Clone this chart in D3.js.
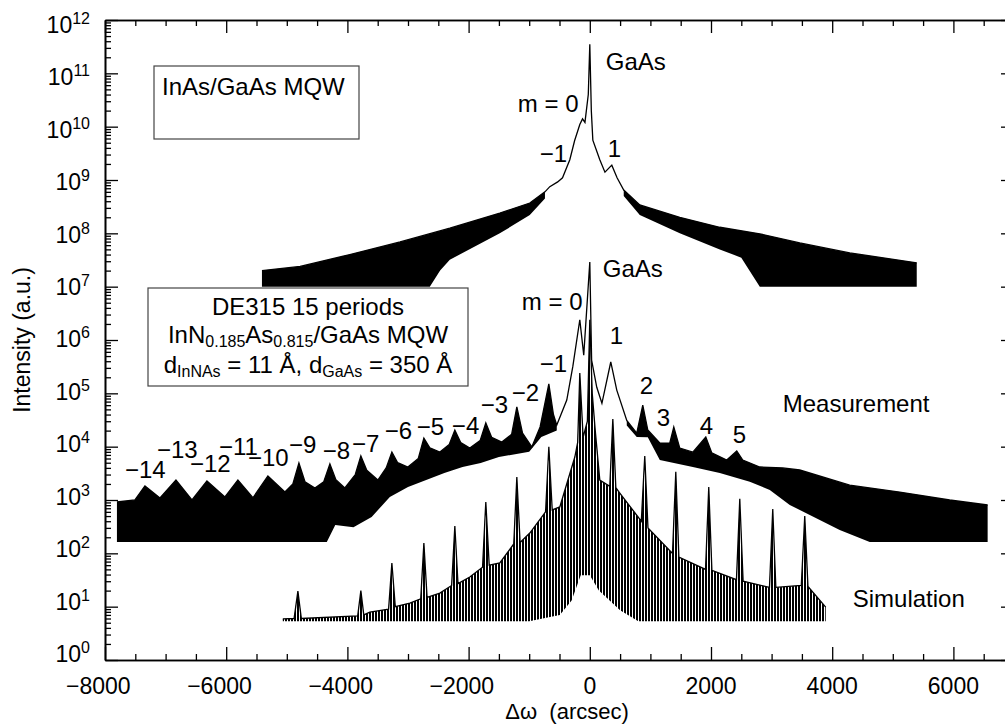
<!DOCTYPE html>
<html>
<head>
<meta charset="utf-8">
<script src="https://cdn.jsdelivr.net/npm/d3@7"></script>
<style>
  body { margin: 0; background: #fff; }
  text { font-family: "Liberation Sans", Arial, Helvetica, sans-serif; fill: #000; }
</style>
</head>
<body>
<script>
// curves: [offset (arcsec), intensity (a.u.)]
// hi = upper edge of the trace, lo = lower edge of the noisy parts

// InAs/GaAs MQW (top trace)
var mqwHi = [[-5410, 2.0e7], [-4780, 2.4e7], [-3960, 4.0e7], [-3130, 6.9e7], [-2310, 1.25e8],
  [-1485, 2.4e8], [-990, 3.7e8], [-740, 6.0e8], [-660, 7.5e8], [-530, 9.2e8], [-450, 1.1e9],
  [-330, 2.4e9], [-250, 5.5e9], [-165, 1.1e10], [-120, 1.4e10], [-80, 1.2e10], [-25, 4e10],
  [0, 3.5e11], [25, 2e10], [50, 5.6e9], [165, 2.4e9], [250, 1.4e9], [363, 1.9e9], [450, 1.1e9],
  [560, 6.5e8], [825, 3.4e8], [1485, 2.0e8], [2145, 1.3e8], [2805, 9.8e7], [3465, 6.6e7],
  [4290, 4.3e7], [5395, 2.8e7]];
var mqwLoLeft = [[-5410, 1e7], [-2640, 1e7], [-2470, 2e7], [-2310, 3.2e7], [-1485, 1.0e8],
  [-990, 2.2e8], [-740, 4.5e8]];
var mqwLoRight = [[560, 5e8], [825, 2.2e8], [1485, 1.0e8], [2145, 5e7], [2500, 3.5e7],
  [2805, 1e7], [5395, 1e7]];

// DE315 measurement
var measHi = [[-7803, 918], [-7506, 1000], [-7341, 1830], [-7093, 1090], [-6829, 2370],
  [-6565, 1000], [-6318, 2270], [-6021, 1140], [-5807, 2370], [-5559, 1100], [-5312, 2820],
  [-5031, 1410], [-4900, 2000], [-4800, 4940], [-4700, 2200], [-4536, 1680], [-4390, 2200],
  [-4289, 4730], [-4190, 2400], [-4042, 1680], [-3870, 3000], [-3778, 6680], [-3680, 3600],
  [-3497, 2370], [-3360, 4000], [-3266, 7940], [-3170, 5000], [-3002, 4160], [-2830, 6000],
  [-2738, 14500], [-2640, 9500], [-2474, 7940], [-2320, 11000], [-2227, 20500], [-2130, 12000],
  [-1980, 9440], [-1810, 13000], [-1716, 27800], [-1620, 15000], [-1452, 12200], [-1290, 17000],
  [-1204, 55500], [-1110, 18000], [-957, 9900], [-820, 23400], [-676, 1.5e5], [-600, 40000],
  [-545, 25400], [-380, 75000], [-280, 3.2e5], [-165, 2.4e6], [-100, 5.2e5], [0, 2.9e7],
  [30, 4.2e5], [115, 1.3e5], [200, 65000], [346, 3.87e5], [445, 1.15e5], [610, 31000],
  [775, 18000], [874, 60400], [957, 20500], [1155, 11700], [1320, 11700], [1386, 23400],
  [1485, 9400], [1700, 7900], [1914, 15200], [2012, 7700], [2260, 5600], [2425, 8300],
  [2524, 5600], [2805, 4160], [3184, 4000], [3464, 3650], [4289, 1900], [5114, 1410],
  [5939, 1000], [6565, 806]];
var measLoLeft = [[-7803, 163], [-4340, 163], [-4200, 340], [-3900, 310], [-3600, 480],
  [-3300, 1140], [-3000, 1750], [-2700, 2360], [-2400, 3200], [-2100, 4160], [-1800, 4940],
  [-1500, 6400], [-1000, 8000], [-800, 15200], [-545, 20000]];
var measLoRight = [[610, 25000], [775, 15200], [957, 15000], [1155, 5600], [1700, 4160],
  [2145, 3200], [2640, 2200], [2970, 1540], [3300, 806], [3630, 525], [4124, 275],
  [4619, 163], [6565, 163]];

// simulation
var simHi = [[-5066, 5.9], [-4880, 6], [-4817, 19.6], [-4760, 6], [-3830, 6.7], [-3778, 20],
  [-3730, 7], [-3630, 7.9], [-3320, 9], [-3266, 66], [-3210, 10], [-2969, 11.7], [-2790, 14],
  [-2738, 156], [-2685, 15], [-2474, 18], [-2280, 25], [-2227, 325], [-2175, 27], [-1980, 36],
  [-1770, 55], [-1716, 920], [-1660, 60], [-1485, 66], [-1255, 150], [-1204, 2700],
  [-1150, 160], [-990, 240], [-730, 600], [-676, 1.0e4], [-620, 650], [-495, 740],
  [-247, 6400], [-200, 1.2e4], [-165, 2.4e5], [-110, 1.5e4], [-40, 3e4], [0, 2.4e6],
  [40, 1.0e5], [90, 2e4], [165, 2370], [330, 1800], [380, 3.3e4], [430, 1700], [495, 1350],
  [850, 400], [907, 6700], [960, 300], [1365, 100], [1419, 3400], [1470, 85], [1910, 50],
  [1963, 1750], [2015, 48], [2420, 32], [2475, 1050], [2530, 30], [2965, 23], [3019, 680],
  [3070, 23], [3490, 25], [3547, 500], [3600, 24], [3893, 9.8]];
var simLo = [[-5066, 5.3], [-1000, 5.3], [-495, 7], [-300, 13], [-150, 39], [0, 39],
  [150, 20], [500, 8.6], [800, 5.3], [3893, 5.3]];

// axis ticks
var xTicks = [-8000, -6000, -4000, -2000, 0, 2000, 4000, 6000];
var yExponents = [0, 1, 2, 3, 4, 5, 6, 7, 8, 9, 10, 11, 12];

// annotations: [text, offset, intensity] (left end of the text, baseline)
var labels = [
  ["GaAs", 264, 1.15e11], ["m = 0", -1188, 1.89e10], ["\u22121", -825, 2.18e9], ["1", 297, 2.7e9],
  ["GaAs", 214, 1.5e7], ["m = 0", -1122, 3.65e6], ["1", 330, 8.4e5], ["\u22121", -825, 2.5e5],
  ["\u22122", -1287, 7.2e4], ["\u22123", -1798, 4.3e4], ["\u22124", -2276, 1.7e4],
  ["\u22125", -2854, 1.66e4], ["\u22126", -3382, 1.39e4], ["\u22127", -3926, 7.9e3],
  ["\u22128", -4405, 5.9e3], ["\u22129", -4965, 7.6e3], ["\u221210", -5642, 4.3e3],
  ["\u221211", -6120, 6.9e3], ["\u221212", -6599, 3.35e3], ["\u221213", -7143, 6.1e3],
  ["\u221214", -7671, 2.6e3], ["2", 825, 9.7e4], ["3", 1105, 2.45e4], ["4", 1815, 1.7e4],
  ["5", 2359, 1.17e4], ["Measurement", 3184, 4.5e4], ["Simulation", 4339, 9.9]
];

var w = 1005;
var h = 724;

var svg = d3.select("body").append("svg")
  .attr("width", w)
  .attr("height", h);

// vertical hatching used for the spiky simulation trace
var pattern = svg.append("defs").append("pattern")
  .attr("id", "spikes")
  .attr("patternUnits", "userSpaceOnUse")
  .attr("width", 3).attr("height", 10);
pattern.append("rect").attr("width", 2).attr("height", 10).attr("fill", "#000");

var xScale = d3.scaleLinear().domain([-8000, 7000]).range([105, 1014]);
var yScale = d3.scaleLog().domain([1, 1e12]).range([660, 20]);

var line = d3.line()
  .x(function(d) { return xScale(d[0]); })
  .y(function(d) { return yScale(d[1]); });

// closed shape between the upper edge and a lower edge
function band(hi, lo) {
  var a = lo[0][0], b = lo[lo.length - 1][0];
  var top = hi.filter(function(d) { return d[0] >= a && d[0] <= b; });
  return line(top.concat(lo.slice().reverse())) + "Z";
}

var plot = svg.append("g");

[[mqwHi, mqwLoLeft], [mqwHi, mqwLoRight], [measHi, measLoLeft], [measHi, measLoRight]]
  .forEach(function(p) {
    plot.append("path").attr("d", band(p[0], p[1])).attr("fill", "#000");
  });
plot.append("path").attr("d", band(simHi, simLo)).attr("fill", "url(#spikes)");

[mqwHi, measHi, simHi].forEach(function(s) {
  plot.append("path").attr("d", line(s))
    .attr("fill", "none").attr("stroke", "#000").attr("stroke-width", 1.3)
    .attr("stroke-linejoin", "miter");
});

// axes, ticks pointing inward
var minorX = d3.range(-8000, 7001, 500).filter(function(v) { return v % 2000 !== 0; });
var majorY = yExponents.map(function(e) { return Math.pow(10, e); });
var minorY = [];
yExponents.slice(0, 12).forEach(function(e) {
  for (var k = 2; k <= 9; k++) minorY.push(k * Math.pow(10, e));
});

function styleAxis(g) {
  g.select(".domain").attr("stroke-width", 1.6);
  g.selectAll(".tick line").attr("stroke-width", 1.3);
}

svg.append("g").attr("transform", "translate(0,660)")
  .call(d3.axisBottom(xScale).tickValues(xTicks).tickSize(-13).tickSizeOuter(0).tickFormat(""))
  .call(styleAxis);
svg.append("g").attr("transform", "translate(0,660)")
  .call(d3.axisBottom(xScale).tickValues(minorX).tickSize(-6).tickSizeOuter(0).tickFormat(""))
  .call(styleAxis);
svg.append("g").attr("transform", "translate(0,20)")
  .call(d3.axisTop(xScale).tickValues(xTicks).tickSize(-13).tickSizeOuter(0).tickFormat(""))
  .call(styleAxis);
svg.append("g").attr("transform", "translate(0,20)")
  .call(d3.axisTop(xScale).tickValues(minorX).tickSize(-6).tickSizeOuter(0).tickFormat(""))
  .call(styleAxis);
svg.append("g").attr("transform", "translate(105,0)")
  .call(d3.axisLeft(yScale).tickValues(majorY).tickSize(-13).tickSizeOuter(0).tickFormat(""))
  .call(styleAxis);
svg.append("g").attr("transform", "translate(105,0)")
  .call(d3.axisLeft(yScale).tickValues(minorY).tickSize(-6).tickSizeOuter(0).tickFormat(""))
  .call(styleAxis);
svg.append("g").attr("transform", "translate(1014,0)")
  .call(d3.axisRight(yScale).tickValues(majorY).tickSize(-13).tickSizeOuter(0).tickFormat(""))
  .call(styleAxis);
svg.append("g").attr("transform", "translate(1014,0)")
  .call(d3.axisRight(yScale).tickValues(minorY).tickSize(-6).tickSizeOuter(0).tickFormat(""))
  .call(styleAxis);

// x tick labels: digits centred on the tick, minus sign hanging to the left
xTicks.forEach(function(v) {
  var t = svg.append("text")
    .attr("x", xScale(v)).attr("y", 694)
    .attr("text-anchor", "middle").style("font-size", "23px")
    .text(Math.abs(v));
  if (v < 0) {
    var tw = t.node().getComputedTextLength();
    svg.append("text")
      .attr("x", xScale(v) - tw / 2).attr("y", 694)
      .attr("text-anchor", "end").style("font-size", "23px")
      .text("\u2212");
  }
});

// y tick labels 10^n
yExponents.forEach(function(e) {
  var t = svg.append("text")
    .attr("x", 90).attr("y", yScale(Math.pow(10, e)) + 13 - 0.92 * (12 - e))
    .attr("text-anchor", "end").style("font-size", "23px");
  t.append("tspan").text("10");
  t.append("tspan").attr("dy", -9).style("font-size", "16px").text(e);
});

// axis titles
svg.append("text")
  .attr("x", 567).attr("y", 719)
  .attr("text-anchor", "middle")
  .style("font-size", "22px")
  .text("\u0394\u03c9\u00a0\u00a0(arcsec)");

svg.append("text")
  .attr("transform", "translate(30,340) rotate(-90)")
  .attr("text-anchor", "middle")
  .style("font-size", "23px")
  .text("Intensity (a.u.)");

// peak labels
svg.selectAll(".ann")
  .data(labels)
  .enter()
  .append("text")
  .attr("class", "ann")
  .attr("x", function(d) { return xScale(d[1]); })
  .attr("y", function(d) { return yScale(d[2]); })
  .style("font-size", "24px")
  .text(function(d) { return d[0]; });

// sample boxes
svg.append("rect")
  .attr("x", 154).attr("y", 66).attr("width", 205).attr("height", 73)
  .attr("fill", "none").attr("stroke", "#444").attr("stroke-width", 1.2);
svg.append("text")
  .attr("x", 162).attr("y", 95)
  .style("font-size", "24px")
  .text("InAs/GaAs MQW");

svg.append("rect")
  .attr("x", 148).attr("y", 288).attr("width", 320).attr("height", 98)
  .attr("fill", "#fff").attr("stroke", "#444").attr("stroke-width", 1.2);

var boxLines = [
  [["DE315 15 periods", 0]],
  [["InN", 0], ["0.185", 1], ["As", 0], ["0.815", 1], ["/GaAs MQW", 0]],
  [["d", 0], ["InNAs", 1], [" = 11 \u00c5, d", 0], ["GaAs", 1], [" = 350 \u00c5", 0]]
];
var boxBase = [315, 343, 373];
boxLines.forEach(function(parts, i) {
  var t = svg.append("text")
    .attr("x", 308).attr("y", boxBase[i])
    .attr("text-anchor", "middle")
    .attr("xml:space", "preserve")
    .style("font-size", "24px");
  var shift = 0;
  parts.forEach(function(p) {
    var dy = (p[1] ? 4 : 0) - shift;
    shift = p[1] ? 4 : 0;
    t.append("tspan")
      .attr("dy", dy)
      .style("font-size", p[1] ? "16px" : "24px")
      .text(p[0]);
  });
});
</script>
</body>
</html>
